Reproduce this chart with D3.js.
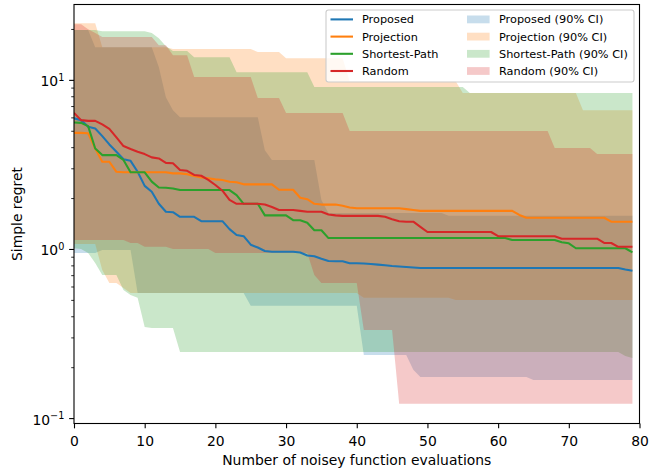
<!DOCTYPE html>
<html>
<head>
<meta charset="utf-8">
<script src="https://cdn.jsdelivr.net/npm/d3@7"></script>
<style>
  body { margin: 0; background: #fff; }
  svg { display: block; }
  text { font-family: "DejaVu Sans", sans-serif; }
</style>
</head>
<body>
<svg id="chart" width="661" height="470"></svg>
<script>
// Simple regret per evaluation step (index = number of evaluations), median curves
const seriesNames = ["Proposed", "Projection", "Shortest-Path", "Random"];
const seriesColors = ["#1f77b4", "#ff7f0e", "#2ca02c", "#d62728"];

const proposed = [
  5.92,5.78,5.28,5.16,4.65,4.15,3.76,3.39,3.32,2.86,
  2.36,2.18,1.85,1.66,1.65,1.55,1.55,1.55,1.46,1.46,
  1.46,1.46,1.31,1.21,1.19,1.06,1.02,0.973,0.964,0.964,
  0.964,0.964,0.953,0.915,0.905,0.875,0.849,0.846,0.846,0.823,
  0.823,0.820,0.815,0.808,0.801,0.793,0.788,0.783,0.777,0.772,
  0.772,0.772,0.772,0.772,0.772,0.772,0.772,0.772,0.772,0.772,
  0.772,0.772,0.772,0.772,0.772,0.772,0.772,0.772,0.772,0.772,
  0.772,0.772,0.772,0.772,0.772,0.772,0.772,0.772,0.757,0.744
];
const projection = [
  4.86,4.86,4.83,3.93,3.28,3.28,2.86,2.84,2.84,2.84,
  2.84,2.84,2.84,2.84,2.80,2.80,2.77,2.70,2.65,2.62,
  2.58,2.56,2.50,2.48,2.41,2.41,2.41,2.41,2.41,2.24,
  2.24,2.24,2.01,1.97,1.85,1.83,1.83,1.83,1.80,1.76,
  1.74,1.74,1.74,1.74,1.74,1.74,1.74,1.72,1.70,1.68,
  1.68,1.68,1.68,1.68,1.68,1.68,1.68,1.68,1.68,1.68,
  1.68,1.68,1.68,1.59,1.53,1.53,1.53,1.53,1.53,1.53,
  1.53,1.53,1.53,1.53,1.53,1.53,1.45,1.45,1.45,1.45
];
const shortestPath = [
  5.60,5.57,5.33,3.93,3.59,3.59,3.59,3.36,2.84,2.84,
  2.84,2.50,2.31,2.30,2.28,2.23,2.23,2.23,2.23,2.23,
  2.23,2.23,2.23,2.08,1.85,1.85,1.85,1.58,1.58,1.58,
  1.58,1.48,1.48,1.43,1.29,1.29,1.16,1.16,1.16,1.16,
  1.16,1.16,1.16,1.16,1.16,1.16,1.16,1.16,1.16,1.16,
  1.16,1.16,1.16,1.16,1.16,1.16,1.16,1.16,1.16,1.16,
  1.16,1.16,1.13,1.13,1.13,1.13,1.13,1.13,1.13,1.095,
  1.08,1.01,1.01,1.01,1.01,1.01,1.01,1.01,1.01,0.956
];
const random = [
  6.38,5.78,5.72,5.72,5.45,5.13,4.57,4.06,3.90,3.76,
  3.64,3.48,3.43,3.23,3.21,2.93,2.90,2.74,2.71,2.56,
  2.39,2.21,1.95,1.85,1.85,1.85,1.85,1.83,1.77,1.70,
  1.70,1.70,1.68,1.66,1.66,1.66,1.60,1.58,1.57,1.57,
  1.57,1.57,1.57,1.57,1.55,1.50,1.46,1.45,1.45,1.35,
  1.26,1.26,1.26,1.26,1.26,1.26,1.26,1.26,1.26,1.26,
  1.19,1.19,1.19,1.19,1.19,1.19,1.19,1.19,1.19,1.15,
  1.15,1.15,1.15,1.15,1.15,1.085,1.085,1.03,1.03,1.03
];

// 90% confidence intervals: upper and lower bounds
const proposedHi = [
  19.7,19.7,19.7,15.6,15.6,15.6,15.6,15.6,15.6,15.6,
  15.6,15.6,11.9,7.90,6.62,6.02,6.02,6.02,6.02,6.02,
  6.02,6.02,6.02,6.02,6.02,6.02,6.02,3.84,3.36,3.36,
  3.36,3.36,3.36,3.36,3.36,1.95,1.63,1.63,1.63,1.63,
  1.63,1.63,1.63,1.63,1.63,1.63,1.63,1.63,1.63,1.63,
  1.63,1.63,1.63,1.57,1.57,1.57,1.57,1.57,1.57,1.57,
  1.57,1.57,1.57,1.57,1.57,1.57,1.57,1.57,1.57,1.57,
  1.57,1.57,1.57,1.57,1.57,1.57,1.57,1.57,1.57,1.57
];
const proposedLo = [
  0.947,0.947,0.947,0.947,0.986,0.986,0.986,0.986,0.986,0.55,
  0.55,0.55,0.55,0.55,0.55,0.55,0.55,0.55,0.55,0.55,
  0.55,0.55,0.55,0.55,0.55,0.461,0.461,0.461,0.461,0.461,
  0.461,0.461,0.461,0.461,0.461,0.461,0.461,0.461,0.461,0.461,
  0.461,0.236,0.236,0.236,0.236,0.236,0.236,0.236,0.193,0.175,
  0.175,0.175,0.175,0.175,0.175,0.175,0.175,0.175,0.175,0.175,
  0.175,0.175,0.175,0.175,0.175,0.168,0.168,0.168,0.168,0.168,
  0.168,0.168,0.168,0.168,0.168,0.168,0.168,0.168,0.168,0.168
];
const projectionHi = [
  21.6,21.6,21.6,21.6,15.6,15.6,15.6,15.6,15.6,15.6,
  15.6,15.6,15.6,15.6,15.2,15.2,15.2,15.2,15.2,15.2,
  15.2,15.2,15.2,15.2,15.2,15.2,14.6,14.6,14.6,14.6,
  13.4,13.4,13.4,13.4,13.4,13.4,13.4,13.4,13.4,9.8,
  9.8,9.8,9.8,9.8,9.8,9.8,9.8,9.8,9.8,9.8,
  9.8,9.8,9.8,9.8,9.8,8.35,8.35,8.35,8.35,8.35,
  8.35,8.35,8.35,8.35,8.35,8.35,8.35,8.35,8.35,8.35,
  8.35,8.35,6.62,6.62,6.62,6.62,6.62,6.62,6.62,6.62
];
const projectionLo = [
  1.07,1.07,1.07,1.07,0.751,0.63,0.63,0.588,0.55,0.55,
  0.55,0.55,0.55,0.55,0.55,0.55,0.55,0.55,0.55,0.55,
  0.55,0.55,0.55,0.55,0.55,0.55,0.55,0.55,0.55,0.55,
  0.55,0.55,0.55,0.55,0.55,0.55,0.55,0.55,0.55,0.55,
  0.55,0.514,0.514,0.514,0.514,0.514,0.514,0.514,0.514,0.514,
  0.514,0.514,0.514,0.514,0.50,0.50,0.50,0.50,0.50,0.50,
  0.50,0.50,0.50,0.50,0.50,0.50,0.50,0.50,0.50,0.50,
  0.50,0.50,0.50,0.50,0.50,0.50,0.50,0.50,0.50,0.50
];
const shortestPathHi = [
  19.7,19.7,19.7,19.7,19.4,19.4,19.4,19.4,19.4,19.4,
  19.4,18.9,17.6,15.8,14.8,14.8,14.8,13.6,13.6,13.6,
  13.6,13.6,13.6,11.1,11.1,11.1,11.1,11.1,11.1,11.1,
  11.1,11.1,11.1,11.1,9.06,9.06,9.06,9.06,9.06,9.06,
  9.06,9.06,9.06,9.06,9.06,9.06,9.06,9.06,9.06,9.06,
  9.06,9.06,9.06,9.06,9.06,9.06,8.35,8.35,8.35,8.35,
  8.35,8.35,8.35,8.35,8.35,8.35,8.35,8.35,8.35,8.35,
  8.35,8.35,8.35,8.35,8.35,8.35,8.35,8.35,8.35,8.35
];
const shortestPathLo = [
  1.01,1.0,0.947,0.827,0.702,0.702,0.702,0.573,0.535,0.514,
  0.346,0.341,0.341,0.341,0.341,0.246,0.246,0.246,0.246,0.246,
  0.246,0.246,0.246,0.246,0.246,0.246,0.246,0.246,0.246,0.246,
  0.246,0.246,0.246,0.246,0.246,0.246,0.246,0.246,0.246,0.246,
  0.246,0.246,0.246,0.246,0.246,0.246,0.246,0.246,0.246,0.246,
  0.246,0.246,0.246,0.246,0.246,0.246,0.246,0.246,0.246,0.246,
  0.246,0.246,0.246,0.246,0.246,0.246,0.246,0.246,0.246,0.246,
  0.246,0.246,0.246,0.246,0.246,0.246,0.246,0.246,0.233,0.227
];
const randomHi = [
  21.3,21.3,19.9,18.9,17.9,17.9,17.9,17.9,17.9,17.9,
  17.9,17.9,16.0,16.0,14.0,14.0,14.0,10.4,10.4,10.4,
  10.4,10.4,10.4,10.4,10.4,10.4,7.80,7.80,7.80,7.80,
  6.36,6.36,6.36,6.36,6.36,6.36,6.36,6.36,6.36,4.98,
  4.98,4.98,4.98,4.98,4.98,4.98,4.98,4.98,4.98,4.98,
  4.98,4.98,4.98,4.98,4.98,4.98,4.98,4.98,4.98,4.98,
  4.98,4.98,4.98,4.98,4.98,4.98,4.98,4.98,3.95,3.95,
  3.95,3.95,3.95,3.95,3.64,3.64,3.64,3.64,3.64,3.64
];
const randomLo = [
  1.13,1.13,1.13,1.13,1.13,1.13,1.13,1.13,1.085,1.085,
  1.03,1.03,1.03,1.03,1.0,1.0,1.0,1.0,1.0,1.0,
  0.947,0.947,0.947,0.947,0.947,0.947,0.947,0.947,0.947,0.947,
  0.947,0.947,0.947,0.947,0.702,0.63,0.63,0.63,0.63,0.63,
  0.63,0.332,0.332,0.332,0.332,0.332,0.1215,0.1215,0.1215,0.1215,
  0.1215,0.1215,0.1215,0.1215,0.1215,0.1215,0.1215,0.1215,0.1215,0.1215,
  0.1215,0.1215,0.1215,0.1215,0.1215,0.1215,0.1215,0.1215,0.1215,0.1215,
  0.1215,0.1215,0.1215,0.1215,0.1215,0.1215,0.1215,0.1215,0.1215,0.1215
];

// Axis ticks
const xTicks = [0, 10, 20, 30, 40, 50, 60, 70, 80];
const yMajorTicks = [0.1, 1, 10];
const yMajorExponents = ["\u22121", "0", "1"];
const yMinorTicks = [0.2, 0.3, 0.4, 0.5, 0.6, 0.7, 0.8, 0.9, 2, 3, 4, 5, 6, 7, 8, 9, 20];

const series = [
  { name: seriesNames[0], color: seriesColors[0], mean: proposed, lo: proposedLo, hi: proposedHi },
  { name: seriesNames[1], color: seriesColors[1], mean: projection, lo: projectionLo, hi: projectionHi },
  { name: seriesNames[2], color: seriesColors[2], mean: shortestPath, lo: shortestPathLo, hi: shortestPathHi },
  { name: seriesNames[3], color: seriesColors[3], mean: random, lo: randomLo, hi: randomHi }
];

const svg = d3.select("#chart");
const plotLeft = 74, plotRight = 639.5, plotTop = 4.5, plotBottom = 423.5;
const x = d3.scaleLinear().domain([0, 80]).range([plotLeft, plotRight]);
const y = d3.scaleLog().domain([0.0929, 27.9]).range([plotBottom, plotTop]);

svg.append("defs").append("clipPath").attr("id", "plotClip")
  .append("rect").attr("x", plotLeft).attr("y", plotTop)
  .attr("width", plotRight - plotLeft).attr("height", plotBottom - plotTop);

const plot = svg.append("g").attr("clip-path", "url(#plotClip)");

// Confidence bands
const band = d3.area()
  .x((d, i) => x(i))
  .y0(d => y(d[0]))
  .y1(d => y(d[1]));
series.forEach(s => {
  plot.append("path")
    .datum(s.lo.map((v, i) => [v, s.hi[i]]))
    .attr("d", band)
    .attr("fill", s.color)
    .attr("fill-opacity", 0.25);
});

// Median curves
const curve = d3.line().x((d, i) => x(i)).y(d => y(d));
series.forEach(s => {
  plot.append("path")
    .datum(s.mean)
    .attr("d", curve)
    .attr("fill", "none")
    .attr("stroke", s.color)
    .attr("stroke-width", 2.08)
    .attr("stroke-linejoin", "round");
});

// X axis
svg.append("g")
  .attr("transform", `translate(0,${plotBottom})`)
  .call(d3.axisBottom(x).tickValues(xTicks).tickSize(4.86).tickPadding(7.8).tickFormat(d3.format("d")))
  .attr("font-family", "DejaVu Sans, sans-serif")
  .attr("font-size", 13.9)
  .call(g => g.select(".domain").remove())
  .call(g => g.selectAll(".tick line").attr("stroke", "#000").attr("stroke-width", 1.1))
  .call(g => g.selectAll(".tick text").attr("fill", "#000"));

// Y axis: minor ticks
svg.append("g")
  .attr("transform", `translate(${plotLeft},0)`)
  .call(d3.axisLeft(y).tickValues(yMinorTicks).tickSize(2.78).tickFormat(""))
  .call(g => g.select(".domain").remove())
  .call(g => g.selectAll(".tick line").attr("stroke", "#000").attr("stroke-width", 0.83));

// Y axis: major ticks with power-of-ten labels
svg.append("g")
  .attr("transform", `translate(${plotLeft},0)`)
  .call(d3.axisLeft(y).tickValues(yMajorTicks).tickSize(4.86).tickPadding(4.8).tickFormat(() => ""))
  .attr("font-family", "DejaVu Sans, sans-serif")
  .attr("font-size", 13.9)
  .call(g => g.select(".domain").remove())
  .call(g => g.selectAll(".tick line").attr("stroke", "#000").attr("stroke-width", 1.1))
  .call(g => g.selectAll(".tick text").each(function (d, i) {
    const t = d3.select(this).attr("fill", "#000").attr("dy", 6);
    t.text("10");
    t.append("tspan").attr("font-size", 9.7).attr("dy", -5.2).text(yMajorExponents[i]);
  }));

// Frame
svg.append("rect")
  .attr("x", plotLeft).attr("y", plotTop)
  .attr("width", plotRight - plotLeft).attr("height", plotBottom - plotTop)
  .attr("fill", "none").attr("stroke", "#000").attr("stroke-width", 1.1);

// Axis titles
svg.append("text")
  .attr("x", (plotLeft + plotRight) / 2).attr("y", 465)
  .attr("text-anchor", "middle").attr("font-size", 13.9).attr("fill", "#000")
  .text("Number of noisey function evaluations");
svg.append("text")
  .attr("transform", `translate(22,${(plotTop + plotBottom) / 2}) rotate(-90)`)
  .attr("text-anchor", "middle").attr("font-size", 13.9).attr("fill", "#000")
  .text("Simple regret");

// Legend
const legend = svg.append("g").attr("font-size", 11.3);
legend.append("rect")
  .attr("x", 326).attr("y", 10).attr("width", 308).attr("height", 72)
  .attr("rx", 2.5)
  .attr("fill", "#fff").attr("fill-opacity", 0.8)
  .attr("stroke", "#cccccc").attr("stroke-width", 1.1);
series.forEach((s, i) => {
  const ly = 19.4 + i * 17.2;
  legend.append("line")
    .attr("x1", 330.5).attr("x2", 353).attr("y1", ly).attr("y2", ly)
    .attr("stroke", s.color).attr("stroke-width", 2.08);
  legend.append("text").attr("x", 362).attr("y", ly + 4).attr("fill", "#000").text(s.name);
  legend.append("rect")
    .attr("x", 467).attr("y", ly - 3.9).attr("width", 22.6).attr("height", 7.8)
    .attr("fill", s.color).attr("fill-opacity", 0.25);
  legend.append("text").attr("x", 499).attr("y", ly + 4).attr("fill", "#000").text(`${s.name} (90% CI)`);
});
</script>
</body>
</html>
